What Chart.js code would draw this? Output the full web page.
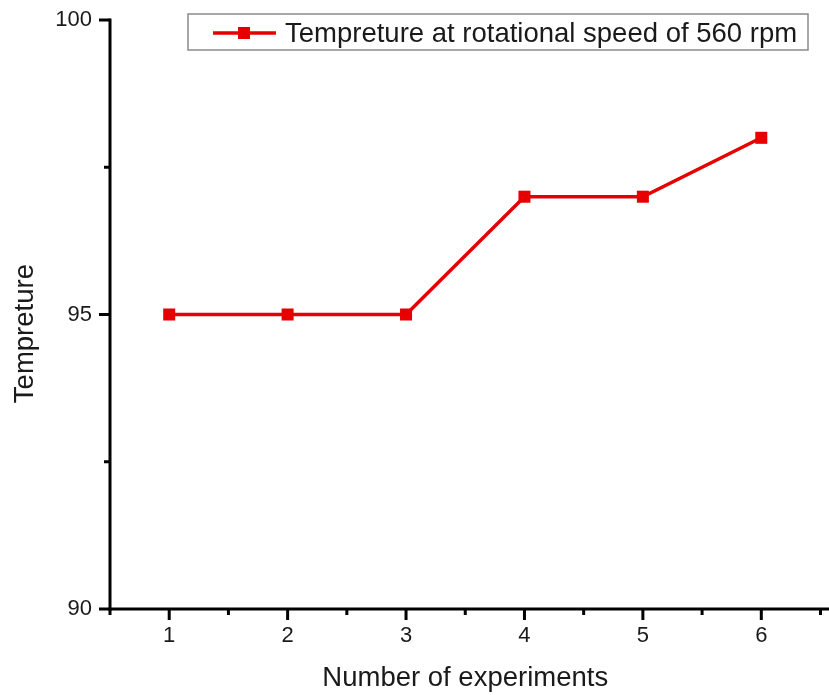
<!DOCTYPE html>
<html>
<head>
<meta charset="utf-8">
<script src="https://cdn.jsdelivr.net/npm/chart.js@4.4.1/dist/chart.umd.min.js"></script>
<style>
  body { margin: 0; background: #fff; }
  canvas { display: block; }
</style>
</head>
<body>
<canvas id="chart" width="829" height="695"></canvas>
<script>
// -------------------------
// Datos
// -------------------------
const experiments = [1, 2, 3, 4, 5, 6];
const temperatures = [95, 95, 95, 97, 97, 98];
const xTicks = [1, 2, 3, 4, 5, 6];
const yTicks = [90, 95, 100];
const xMinorTicks = [0.5, 1.5, 2.5, 3.5, 4.5, 5.5, 6.5];
const yMinorTicks = [92.5, 97.5];
const seriesLabel = "Tempreture at rotational speed of 560 rpm";

const RED = "#e60000";
const FONT = "'Liberation Sans', Arial, Helvetica, sans-serif";

// ejes y marcas dibujados a mano (origin style)
const axesPlugin = {
  id: "axesPlugin",
  afterDraw(chart) {
    const { ctx, chartArea } = chart;
    const xs = chart.scales.x;
    const ys = chart.scales.y;
    ctx.save();
    ctx.strokeStyle = "#000";
    ctx.lineWidth = 3;
    ctx.lineCap = "butt";
    // eje y
    ctx.beginPath();
    ctx.moveTo(chartArea.left, chartArea.top - 1.5);
    ctx.lineTo(chartArea.left, chartArea.bottom + 1.5);
    ctx.stroke();
    // eje x
    ctx.beginPath();
    ctx.moveTo(chartArea.left - 1.5, chartArea.bottom);
    ctx.lineTo(chart.width, chartArea.bottom);
    ctx.stroke();

    ctx.beginPath();
    yTicks.forEach((v) => {
      const y = ys.getPixelForValue(v);
      ctx.moveTo(chartArea.left, y);
      ctx.lineTo(chartArea.left - 11, y);
    });
    yMinorTicks.forEach((v) => {
      const y = ys.getPixelForValue(v);
      ctx.moveTo(chartArea.left, y);
      ctx.lineTo(chartArea.left - 6, y);
    });
    xTicks.forEach((v) => {
      const x = xs.getPixelForValue(v);
      ctx.moveTo(x, chartArea.bottom);
      ctx.lineTo(x, chartArea.bottom + 11);
    });
    xMinorTicks.forEach((v) => {
      const x = xs.getPixelForValue(v);
      ctx.moveTo(x, chartArea.bottom);
      ctx.lineTo(x, chartArea.bottom + 6);
    });
    ctx.stroke();
    ctx.restore();
  },
};

// leyenda con línea y marcador
const legendPlugin = {
  id: "legendPlugin",
  afterDraw(chart) {
    const { ctx } = chart;
    ctx.save();
    ctx.strokeStyle = "#8a8a8a";
    ctx.lineWidth = 1.5;
    ctx.strokeRect(188, 14, 620, 36);
    ctx.strokeStyle = RED;
    ctx.lineWidth = 3.5;
    ctx.beginPath();
    ctx.moveTo(213, 33);
    ctx.lineTo(276, 33);
    ctx.stroke();
    ctx.fillStyle = RED;
    ctx.fillRect(238, 27, 12, 12);
    ctx.fillStyle = "#1a1a1a";
    ctx.font = "27.5px " + FONT;
    ctx.textBaseline = "middle";
    ctx.fillText(seriesLabel, 285, 34);
    ctx.restore();
  },
};

const ctx = document.getElementById("chart").getContext("2d");
const chart = new Chart(ctx, {
  type: "line",
  data: {
    datasets: [
      {
        label: seriesLabel,
        data: experiments.map((x, i) => ({ x: x, y: temperatures[i] })),
        borderColor: RED,
        borderWidth: 3.5,
        backgroundColor: RED,
        pointStyle: "rect",
        pointRadius: 8.5,
        pointBorderWidth: 0,
        pointBackgroundColor: RED,
        tension: 0,
        fill: false,
        clip: false,
      },
    ],
  },
  options: {
    responsive: false,
    animation: false,
    layout: { padding: { top: 20, right: 1, left: 0, bottom: 0 } },
    plugins: {
      legend: { display: false },
      tooltip: { enabled: false },
    },
    scales: {
      x: {
        type: "linear",
        min: 0.5,
        max: 6.5,
        afterBuildTicks: (scale) => {
          scale.ticks = xTicks.map((v) => ({ value: v }));
        },
        afterFit: (scale) => {
          scale.height = 86;
          scale.paddingLeft = 0;
          scale.paddingRight = 0;
        },
        grid: { display: false, drawTicks: false },
        border: { display: false },
        ticks: {
          padding: 14,
          color: "#1a1a1a",
          font: { family: FONT, size: 22 },
          maxRotation: 0,
        },
        title: {
          display: true,
          text: "Number of experiments",
          color: "#1a1a1a",
          font: { family: FONT, size: 27.5 },
          padding: { top: 0, bottom: 0 },
        },
      },
      y: {
        type: "linear",
        min: 90,
        max: 100,
        afterBuildTicks: (scale) => {
          scale.ticks = yTicks.map((v) => ({ value: v }));
        },
        afterFit: (scale) => {
          scale.width = 110;
          scale.paddingTop = 0;
          scale.paddingBottom = 0;
        },
        grid: { display: false, drawTicks: false },
        border: { display: false },
        ticks: {
          padding: 18,
          color: "#1a1a1a",
          font: { family: FONT, size: 22 },
        },
        title: {
          display: true,
          text: "Tempreture     ",
          color: "#1a1a1a",
          font: { family: FONT, size: 27.5 },
          padding: { top: 9, bottom: 0 },
        },
      },
    },
  },
  plugins: [axesPlugin, legendPlugin],
});
</script>
</body>
</html>
